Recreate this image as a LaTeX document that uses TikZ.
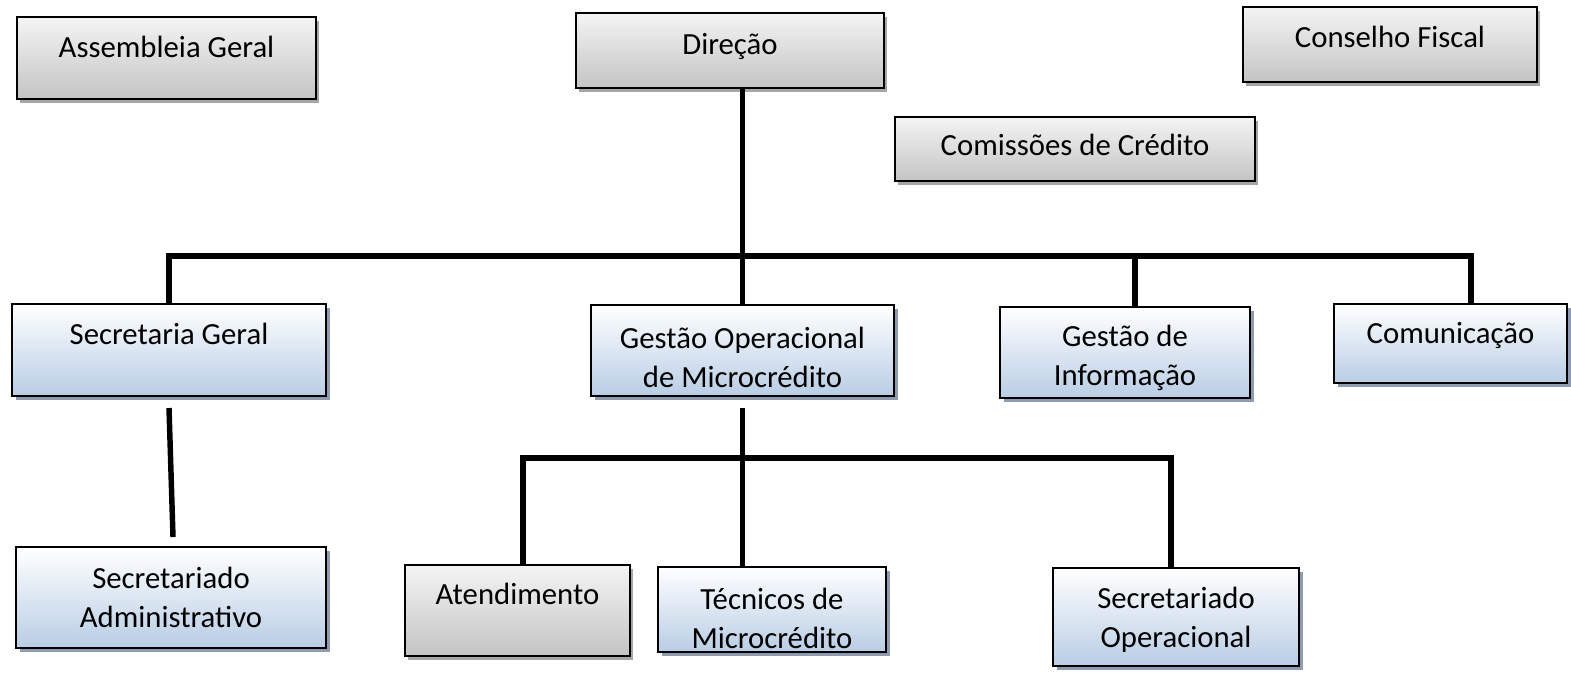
\documentclass[tikz,border=0pt]{standalone}
\usepackage{fontspec}
\setmainfont{Carlito}
\usepackage{tikz}
\usetikzlibrary{shadows}

\definecolor{greytop}{HTML}{F4F4F4}
\definecolor{greybot}{HTML}{C4C4C4}
\definecolor{bluebot}{HTML}{B9CDE5}
\definecolor{blueshadow}{HTML}{8E9BB0}

\tikzset{
  unit/.style 2 args={draw=black, line width=1.2pt, inner sep=0pt, align=center,
    minimum width=#1*0.02cm, minimum height=#2*0.02cm,
    font=\fontsize{17.5}{22}\selectfont},
  greyunit/.style 2 args={unit={#1}{#2}, top color=greytop, bottom color=greybot,
    drop shadow={shadow xshift=1.5pt, shadow yshift=-2.5pt, opacity=0.35, fill=black}},
  blueunit/.style 2 args={unit={#1}{#2}, top color=white, bottom color=bluebot,
    drop shadow={shadow xshift=2.5pt, shadow yshift=-2.5pt, opacity=1, fill=blueshadow}},
  link/.style={line width=3.1pt}
}

\begin{document}
\begin{tikzpicture}[x=0.02cm,y=-0.02cm]
  \useasboundingbox (0,0) rectangle (1571,673);

  % top level
  \node[greyunit={299}{82}, text depth=13pt] (assembleia) at (166.5,58) {Assembleia Geral};
  \node[greyunit={308}{75}, text depth=8pt] (direcao) at (730,50.5) {Direção};
  \node[greyunit={294}{75}, text depth=9pt] (conselho) at (1390,44.5) {Conselho Fiscal};
  \node[greyunit={360}{64}, text depth=5pt] (comissoes) at (1075,149) {Comissões de Crédito};

  % second level
  \node[blueunit={314}{92}, text depth=18pt] (secgeral) at (169,350) {Secretaria Geral};
  \node[blueunit={303}{91}] (gestop) at (742.5,350.5) {\rule{0pt}{20pt}Gestão Operacional\\de Microcrédito};
  \node[blueunit={250}{91}] (gestinf) at (1125,352.5) {\rule{0pt}{18.5pt}Gestão de\\Informação};
  \node[blueunit={233}{79}, text depth=12pt] (comunic) at (1450.5,343.5) {Comunicação};

  % third level
  \node[blueunit={310}{101}] (secadm) at (171,597.5) {Secretariado\\Administrativo};
  \node[greyunit={225}{91}, text depth=19pt] (atend) at (517.5,610.5) {Atendimento};
  \node[blueunit={228}{85}] (tecnicos) at (772,609.5) {\rule{0pt}{22pt}Técnicos de\\Microcrédito};
  \node[blueunit={246}{98}] (secop) at (1176,617) {\rule{0pt}{15pt}Secretariado\\Operacional};

  % connectors
  \coordinate (barleft) at (169,256);
  \coordinate (barright) at (1471,256);
  \coordinate (lowleft) at (523,458);
  \coordinate (lowright) at (1171,458);
  \coordinate (admtop) at (173,537);
  \coordinate (sgbot) at (169,408);

  \draw[link] (direcao.south -| gestop.north) -- (gestop.north);
  \draw[link] (secgeral.north) -- (barleft) -- (barright) -- (barright |- comunic.north);
  \draw[link] (1135,256) -- (1135,307);
  \draw[link] (sgbot) -- (admtop);
  \draw[link] (742.5,408) -- (742.5,458);
  \draw[link] (atend.north -| lowleft) -- (lowleft) -- (lowright) -- (lowright |- secop.north);
  \draw[link] (742.5,458) -- (tecnicos.north -| gestop.south);
\end{tikzpicture}
\end{document}
